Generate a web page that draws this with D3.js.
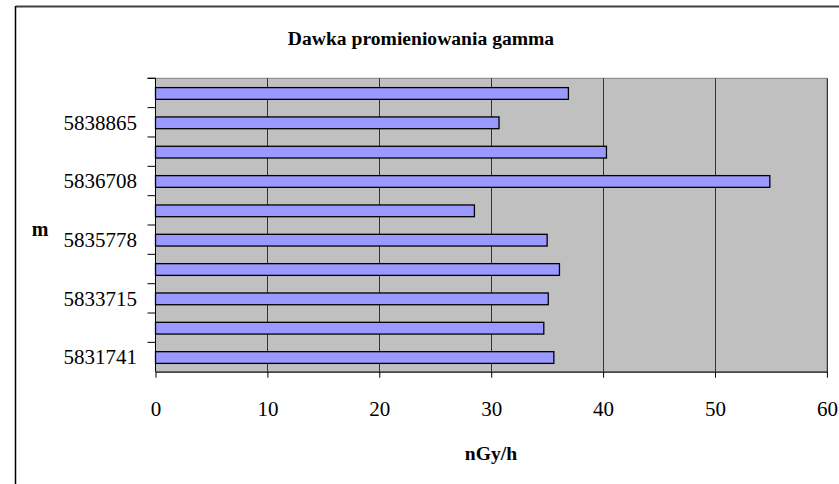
<!DOCTYPE html>
<html><head><meta charset="utf-8">
<script src="https://cdn.jsdelivr.net/npm/d3@7"></script>
<style>body{margin:0;background:#fff}svg{display:block}text{font-family:"Liberation Serif","Times New Roman",serif;fill:#000}</style>
</head><body><svg id="c" width="839" height="484"></svg>
<script>
// categories bottom to top (unlabelled ones are estimated; Excel skipped their labels)
const categories = ["5831741","5832730","5833715","5834750","5835778","5836240","5836708","5837790","5838865","5839900"];
const shownLabels = ["5831741","5833715","5835778","5836708","5838865"];
const values = [35.6, 34.7, 35.1, 36.1, 35.0, 28.5, 54.9, 40.3, 30.7, 36.9];
const xTicks = [0,10,20,30,40,50,60];
const title = "Dawka promieniowania gamma";
const xTitle = "nGy/h";
const yTitle = "m";

const svg = d3.select("#c");
const L = 155.5, R = 826.9, T = 78.3, B = 371.7;
const x = d3.scaleLinear().domain([0,60]).range([L,R]);
const y = d3.scaleBand().domain(categories).range([B,T]).paddingInner(0.6).paddingOuter(0.3);
const yb = d3.scaleBand().domain(categories).range([B,T]);

// outer frame
svg.append("line").attr("x1",15.5).attr("x2",839).attr("y1",6.5).attr("y2",6.5).attr("stroke","#404040").attr("stroke-width",2);
svg.append("line").attr("x1",15.5).attr("x2",15.5).attr("y1",6).attr("y2",484).attr("stroke","#000").attr("stroke-width",1.5);

// plot area
svg.append("rect").attr("x",L).attr("y",T).attr("width",R-L).attr("height",B-T).attr("fill","#c0c0c0").attr("stroke","#808080").attr("stroke-width",1);

// gridlines
svg.append("g").selectAll("line").data(xTicks.slice(1)).join("line")
  .attr("x1",d=>Math.round(x(d))+0.5).attr("x2",d=>Math.round(x(d))+0.5).attr("y1",T).attr("y2",B)
  .attr("stroke","#333").attr("stroke-width",1);

// bars
svg.append("g").selectAll("rect").data(categories).join("rect")
  .attr("x",x(0)).attr("y",(d)=>y(d)+0.5).attr("height",y.bandwidth())
  .attr("width",(d,i)=>x(values[i])-x(0))
  .attr("fill","#9999ff").attr("stroke","#000").attr("stroke-width",1.3);

// x axis
const xa = svg.append("g").attr("transform",`translate(0,${B})`)
  .call(d3.axisBottom(x).tickValues(xTicks).tickSize(6).tickPadding(23).tickSizeOuter(0));
xa.select(".domain").attr("stroke","#000");
xa.selectAll(".tick line").attr("stroke","#000");
xa.selectAll("text").attr("font-size",21).attr("font-family","Liberation Serif");

// y axis: ticks at band boundaries
const bounds = categories.map(c=>yb(c)).concat([T]);
const yg = svg.append("g");
yg.append("line").attr("x1",L).attr("x2",L).attr("y1",T).attr("y2",B).attr("stroke","#000");
yg.selectAll("line.t").data(bounds).join("line").attr("class","t")
  .attr("x1",L-8).attr("x2",L).attr("y1",d=>d).attr("y2",d=>d).attr("stroke","#000");
yg.selectAll("text").data(shownLabels).join("text")
  .attr("x",137).attr("y",d=>y(d)+y.bandwidth()/2).attr("dy","0.35em")
  .attr("text-anchor","end").attr("font-size",21).text(d=>d);

// titles
svg.append("text").attr("x",421).attr("y",38).attr("dy","0.35em").attr("text-anchor","middle")
  .attr("font-weight","bold").attr("font-size",19.6).text(title);
svg.append("text").attr("x",491).attr("y",453).attr("dy","0.35em").attr("text-anchor","middle")
  .attr("font-weight","bold").attr("font-size",19.6).text(xTitle);
svg.append("text").attr("x",40).attr("y",229).attr("dy","0.35em").attr("text-anchor","middle")
  .attr("font-weight","bold").attr("font-size",20).text(yTitle);
</script></body></html>
